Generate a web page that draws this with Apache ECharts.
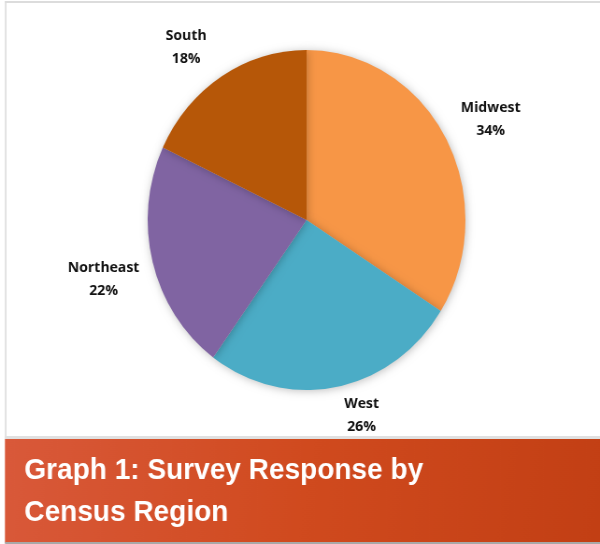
<!DOCTYPE html>
<html>
<head>
<meta charset="utf-8">
<script src="https://cdn.jsdelivr.net/npm/echarts@6/dist/echarts.min.js"></script>
<style>
  html, body { margin: 0; padding: 0; background: #fff; overflow: hidden; width: 600px; height: 544px; }
  /* the slide graphic is drawn slightly narrower than it is tall */
  #chart { width: 642px; height: 544px; transform: scaleX(0.9346); transform-origin: 0 0; }
</style>
</head>
<body>
<div id="chart"></div>
<script>
// Survey responses by census region (share of respondents, %)
const regions = ['Midwest', 'West', 'Northeast', 'South'];
const shares = [34, 26, 22, 18];
const sliceColors = ['#F79646', '#4BACC6', '#8064A2', '#B65708'];
const titleText = 'Graph 1: Survey Response by\nCensus Region';

const labelFont = '"Open Sans", Lato, sans-serif';
// small nudges so each label sits clear of its slice
const labelOffsets = [[6, 4], [18, -19], [-6, 5], [-12, 11]];

const W = 642;
const CX = 328, CY = 220, R = 170, LABEL_R = 215;

const sliceData = regions.map((name, i) => ({
  name, value: shares[i], itemStyle: { color: sliceColors[i] }
}));

const labelData = regions.map((name, i) => ({
  name, value: shares[i],
  label: { offset: labelOffsets[i] }
}));

const chart = echarts.init(document.getElementById('chart'), null, { renderer: 'canvas' });

chart.setOption({
  animation: false,
  backgroundColor: '#ffffff',
  title: {
    text: titleText,
    left: 21,
    top: 445,
    textStyle: {
      color: '#ffffff',
      fontFamily: '"Liberation Sans", Arial, sans-serif',
      fontWeight: 'bold',
      fontSize: 30,
      lineHeight: 42
    }
  },
  graphic: [
    // frame lines around the plot area
    { type: 'rect', z: -10, shape: { x: 5.3, y: 1, width: W, height: 2 }, style: { fill: '#dcdcdc' } },
    { type: 'rect', z: -10, shape: { x: 5.3, y: 1, width: 1.6, height: 438 }, style: { fill: '#dcdcdc' } },
    { type: 'rect', z: -10, shape: { x: 5.3, y: 436, width: W, height: 3 }, style: { fill: '#e0e0e0' } },
    // title banner
    {
      type: 'rect', z: -5,
      shape: { x: 5.3, y: 439, width: W, height: 104 },
      style: {
        fill: new echarts.graphic.LinearGradient(0, 0, 1, 1, [
          { offset: 0, color: '#D9593A' },
          { offset: 0.5, color: '#D04A1E' },
          { offset: 1, color: '#C23F14' }
        ])
      }
    },
    { type: 'rect', z: -5, shape: { x: 5.3, y: 542, width: W, height: 2 }, style: { fill: '#a8a8a8' } }
  ],
  series: [
    {
      type: 'pie',
      center: [CX, CY],
      radius: [0, R],
      startAngle: 90,
      clockwise: true,
      silent: true,
      label: { show: false },
      labelLine: { show: false },
      itemStyle: {
        borderWidth: 0,
        shadowBlur: 8,
        shadowColor: 'rgba(0,0,0,0.25)',
        shadowOffsetX: 1,
        shadowOffsetY: 1
      },
      data: sliceData
    },
    {
      // invisible ring used only to place the category labels around the pie
      type: 'pie',
      center: [CX, CY],
      radius: [LABEL_R, LABEL_R],
      startAngle: 90,
      clockwise: true,
      silent: true,
      itemStyle: { color: 'transparent', borderWidth: 0 },
      labelLine: { show: false },
      label: {
        show: true,
        position: 'inside',
        formatter: '{b}\n{c}%',
        color: '#111111',
        fontFamily: labelFont,
        fontWeight: 'bold',
        fontSize: 15,
        lineHeight: 23,
        align: 'center'
      },
      data: labelData
    }
  ]
});
</script>
</body>
</html>
